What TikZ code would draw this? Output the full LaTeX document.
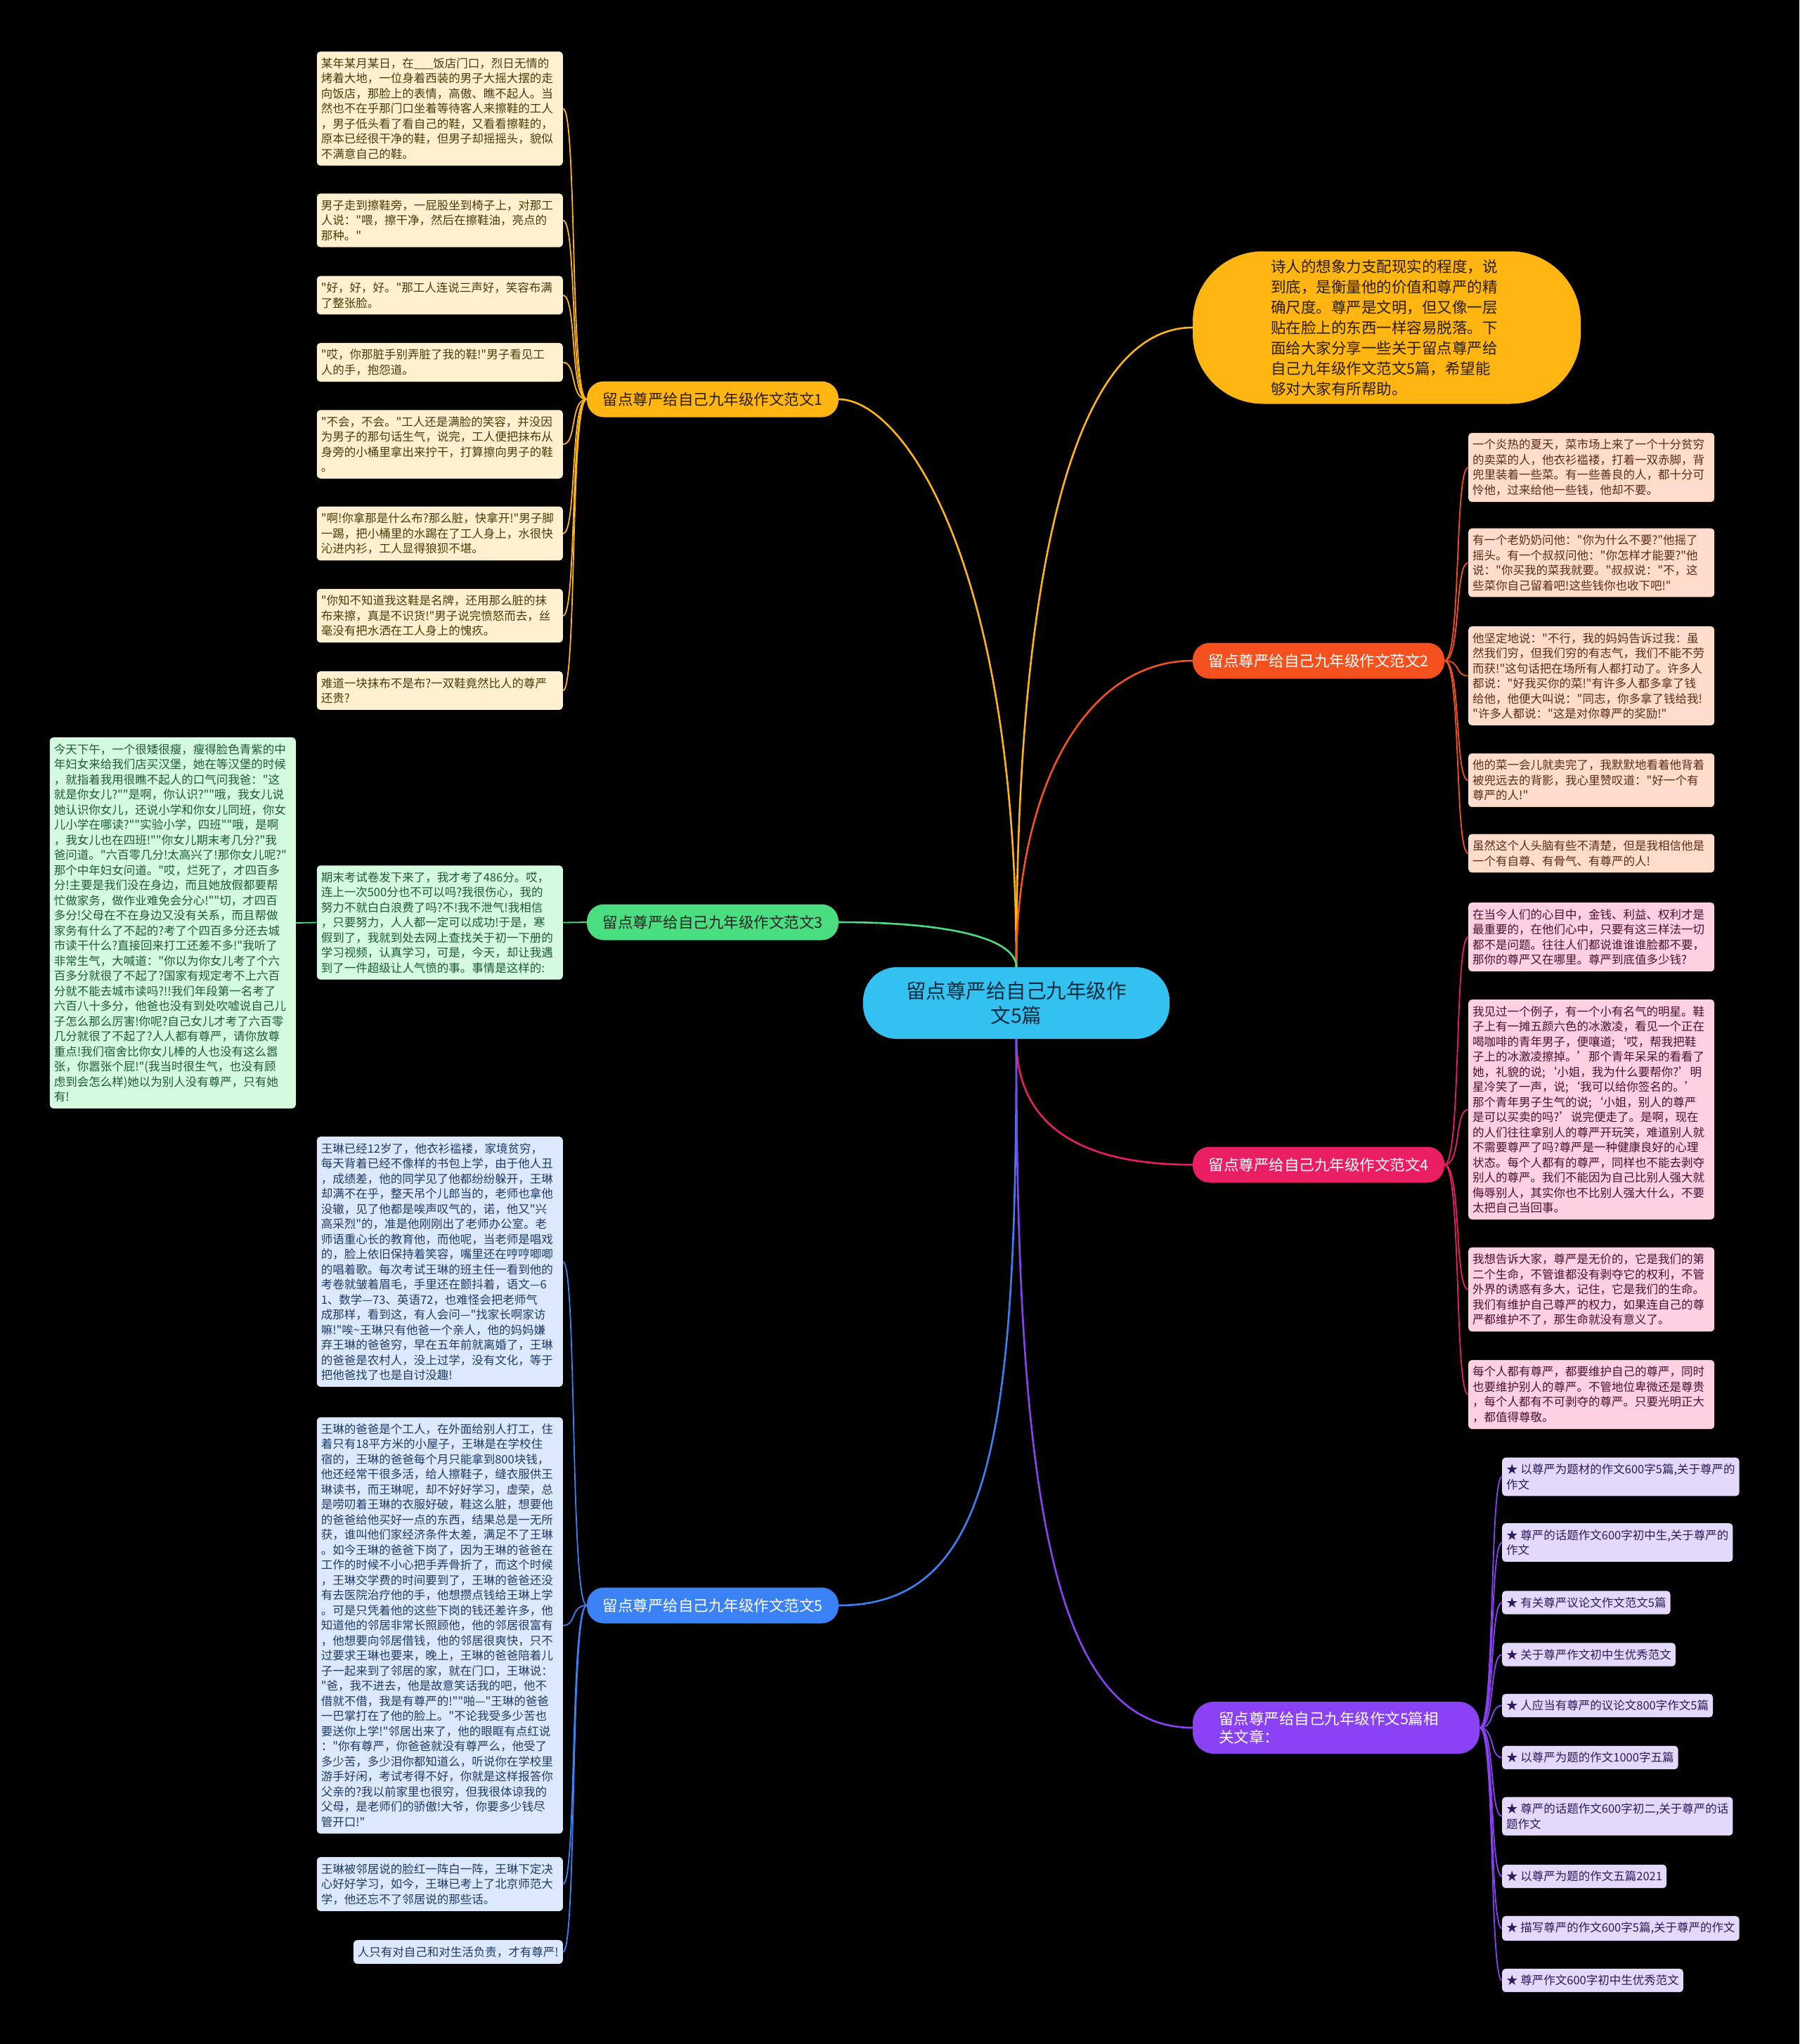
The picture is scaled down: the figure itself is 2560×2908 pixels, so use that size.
\documentclass[tikz,border=0pt]{standalone}
\usepackage{fontspec}
\newfontfamily\zhfont{Noto Sans CJK SC}
\usetikzlibrary{positioning}

\definecolor{hubc}{HTML}{33C2F0}
\definecolor{hubt}{HTML}{0D2B3E}
\definecolor{c1}{HTML}{FFB612}
\definecolor{c2}{HTML}{F4511E}
\definecolor{c3}{HTML}{4ADE80}
\definecolor{c4}{HTML}{E91E63}
\definecolor{c5}{HTML}{3B82F6}
\definecolor{c6}{HTML}{8B42F5}
\definecolor{l1}{HTML}{FFF1CF}
\definecolor{l2}{HTML}{FFDCCB}
\definecolor{l3}{HTML}{D4FADF}
\definecolor{l4}{HTML}{FFCFE2}
\definecolor{l5}{HTML}{DCE8FC}
\definecolor{l6}{HTML}{E4D8FB}
\definecolor{t1}{HTML}{4A3A0A}
\definecolor{t2}{HTML}{5A2A1A}
\definecolor{t3}{HTML}{1E5A32}
\definecolor{t4}{HTML}{4A1030}
\definecolor{t5}{HTML}{1E3A66}
\definecolor{t6}{HTML}{2E1A5C}
\definecolor{ink}{HTML}{2A1E00}

\begin{document}
\begin{tikzpicture}[x=1pt,y=-1pt,
  box/.style 2 args={fill=#1,text=#2,rounded corners=5pt,inner xsep=6pt,inner ysep=9pt,align=left,font=\zhfont\fontsize{16.5}{21.5}\selectfont},
  leaf/.style 2 args={box={#1}{#2},text width=338pt},
  branch/.style 2 args={fill=#1,text=#2,rounded corners=24pt,minimum width=358pt,minimum height=51pt,inner sep=0pt,font=\zhfont\fontsize{21.5}{26}\selectfont},
  hub/.style={fill=hubc,text=hubt,rounded corners=48pt,minimum width=436pt,minimum height=102pt,align=center,font=\zhfont\fontsize{28.5}{35}\selectfont},
  arm/.style={line width=2.6pt},
  twig/.style={line width=1.8pt}]
\fill[black] (0,0) rectangle (2560,2908);
\useasboundingbox (0,0) rectangle (2560,2908);

% centre and main branches
\node[hub] (n0) at (1446,1427) {留点尊严给自己九年级作\\文5篇};
\node[branch={c1}{ink}] (n1) at (1014,568) {留点尊严给自己九年级作文范文1};
\node[branch={c2}{white}] (n2) at (1876,940) {留点尊严给自己九年级作文范文2};
\node[branch={c3}{black!85}] (n3) at (1014,1312) {留点尊严给自己九年级作文范文3};
\node[branch={c4}{white}] (n4) at (1876,1657) {留点尊严给自己九年级作文范文4};
\node[branch={c5}{white}] (n5) at (1014,2284) {留点尊严给自己九年级作文范文5};
\node[branch={c6}{white},rounded corners=30pt,minimum width=408pt,minimum height=74pt,text width=334pt,align=left] (n6) at (1901,2458) {留点尊严给自己九年级作文5篇相\\关文章：};
\node[fill=c1,text=ink,rounded corners=100pt,text width=330pt,inner xsep=111pt,minimum height=217pt,align=left,font=\zhfont\fontsize{21.5}{29}\selectfont] (n7) at (1973,466) {诗人的想象力支配现实的程度，说\\到底，是衡量他的价值和尊严的精\\确尺度。尊严是文明，但又像一层\\贴在脸上的东西一样容易脱落。下\\面给大家分享一些关于留点尊严给\\自己九年级作文范文5篇，希望能\\够对大家有所帮助。};

% branch 1
\node[leaf={l1}{t1},anchor=east] (n1a) at (801,154.5) {某年某月某日，在\_\_\_饭店门口，烈日无情的\\烤着大地，一位身着西装的男子大摇大摆的走\\向饭店，那脸上的表情，高傲、瞧不起人。当\\然也不在乎那门口坐着等待客人来擦鞋的工人\\，男子低头看了看自己的鞋，又看看擦鞋的，\\原本已经很干净的鞋，但男子却摇摇头，貌似\\不满意自己的鞋。};
\node[leaf={l1}{t1},anchor=east] (n1b) at (801,313.5) {男子走到擦鞋旁，一屁股坐到椅子上，对那工\\人说："喂，擦干净，然后在擦鞋油，亮点的\\那种。"};
\node[leaf={l1}{t1},anchor=east] (n1c) at (801,420) {"好，好，好。"那工人连说三声好，笑容布满\\了整张脸。};
\node[leaf={l1}{t1},anchor=east] (n1d) at (801,515.5) {"哎，你那脏手别弄脏了我的鞋!"男子看见工\\人的手，抱怨道。};
\node[leaf={l1}{t1},anchor=east] (n1e) at (801,632) {"不会，不会。"工人还是满脸的笑容，并没因\\为男子的那句话生气，说完，工人便把抹布从\\身旁的小桶里拿出来拧干，打算擦向男子的鞋\\。};
\node[leaf={l1}{t1},anchor=east] (n1f) at (801,759) {"啊!你拿那是什么布?那么脏，快拿开!"男子脚\\一踢，把小桶里的水踢在了工人身上，水很快\\沁进内衫，工人显得狼狈不堪。};
\node[leaf={l1}{t1},anchor=east] (n1g) at (801,876) {"你知不知道我这鞋是名牌，还用那么脏的抹\\布来擦，真是不识货!"男子说完愤怒而去，丝\\毫没有把水洒在工人身上的愧疚。};
\node[leaf={l1}{t1},anchor=east] (n1h) at (801,982.5) {难道一块抹布不是布?一双鞋竟然比人的尊严\\还贵?};

% branch 3
\node[leaf={l3}{t3},anchor=east] (n3b) at (801,1312.5) {期末考试卷发下来了，我才考了486分。哎，\\连上一次500分也不可以吗?我很伤心，我的\\努力不就白白浪费了吗?不!我不泄气!我相信\\，只要努力，人人都一定可以成功!于是，寒\\假到了，我就到处去网上查找关于初一下册的\\学习视频，认真学习，可是，今天，却让我遇\\到了一件超级让人气愤的事。事情是这样的:};
\node[leaf={l3}{t3},anchor=east] (n3a) at (421,1313) {今天下午，一个很矮很瘦，瘦得脸色青紫的中\\年妇女来给我们店买汉堡，她在等汉堡的时候\\，就指着我用很瞧不起人的口气问我爸："这\\就是你女儿?""是啊，你认识?""哦，我女儿说\\她认识你女儿，还说小学和你女儿同班，你女\\儿小学在哪读?""实验小学，四班""哦，是啊\\，我女儿也在四班!""你女儿期末考几分?"我\\爸问道。"六百零几分!太高兴了!那你女儿呢?"\\那个中年妇女问道。"哎，烂死了，才四百多\\分!主要是我们没在身边，而且她放假都要帮\\忙做家务，做作业难免会分心!""切，才四百\\多分!父母在不在身边又没有关系，而且帮做\\家务有什么了不起的?考了个四百多分还去城\\市读干什么?直接回来打工还差不多!"我听了\\非常生气，大喊道："你以为你女儿考了个六\\百多分就很了不起了?国家有规定考不上六百\\分就不能去城市读吗?!!我们年段第一名考了\\六百八十多分，他爸也没有到处吹嘘说自己儿\\子怎么那么厉害!你呢?自己女儿才考了六百零\\几分就很了不起了?人人都有尊严，请你放尊\\重点!我们宿舍比你女儿棒的人也没有这么嚣\\张，你嚣张个屁!"(我当时很生气，也没有顾\\虑到会怎么样)她以为别人没有尊严，只有她\\有!};

% branch 5
\node[leaf={l5}{t5},anchor=east] (n5a) at (801,1795) {王琳已经12岁了，他衣衫褴褛，家境贫穷，\\每天背着已经不像样的书包上学，由于他人丑\\，成绩差，他的同学见了他都纷纷躲开，王琳\\却满不在乎，整天吊个儿郎当的，老师也拿他\\没辙，见了他都是唉声叹气的，诺，他又"兴\\高采烈"的，准是他刚刚出了老师办公室。老\\师语重心长的教育他，而他呢，当老师是唱戏\\的，脸上依旧保持着笑容，嘴里还在哼哼唧唧\\的唱着歌。每次考试王琳的班主任一看到他的\\考卷就皱着眉毛，手里还在颤抖着，语文—6\\1、数学—73、英语72，也难怪会把老师气\\成那样，看到这，有人会问—"找家长啊家访\\嘛!"唉\textasciitilde 王琳只有他爸一个亲人，他的妈妈嫌\\弃王琳的爸爸穷，早在五年前就离婚了，王琳\\的爸爸是农村人，没上过学，没有文化，等于\\把他爸找了也是自讨没趣!};
\node[leaf={l5}{t5},anchor=east] (n5b) at (801,2312.5) {王琳的爸爸是个工人，在外面给别人打工，住\\着只有18平方米的小屋子，王琳是在学校住\\宿的，王琳的爸爸每个月只能拿到800块钱，\\他还经常干很多活，给人擦鞋子，缝衣服供王\\琳读书，而王琳呢，却不好好学习，虚荣，总\\是唠叨着王琳的衣服好破，鞋这么脏，想要他\\的爸爸给他买好一点的东西，结果总是一无所\\获，谁叫他们家经济条件太差，满足不了王琳\\。如今王琳的爸爸下岗了，因为王琳的爸爸在\\工作的时候不小心把手弄骨折了，而这个时候\\，王琳交学费的时间要到了，王琳的爸爸还没\\有去医院治疗他的手，他想攒点钱给王琳上学\\。可是只凭着他的这些下岗的钱还差许多，他\\知道他的邻居非常长照顾他，他的邻居很富有\\，他想要向邻居借钱，他的邻居很爽快，只不\\过要求王琳也要来，晚上，王琳的爸爸陪着儿\\子一起来到了邻居的家，就在门口，王琳说：\\"爸，我不进去，他是故意笑话我的吧，他不\\借就不借，我是有尊严的!""啪—"王琳的爸爸\\一巴掌打在了他的脸上。"不论我受多少苦也\\要送你上学!"邻居出来了，他的眼眶有点红说\\："你有尊严，你爸爸就没有尊严么，他受了\\多少苦，多少泪你都知道么，听说你在学校里\\游手好闲，考试考得不好，你就是这样报答你\\父亲的?我以前家里也很穷，但我很体谅我的\\父母，是老师们的骄傲!大爷，你要多少钱尽\\管开口!"};
\node[leaf={l5}{t5},anchor=east] (n5c) at (801,2680.5) {王琳被邻居说的脸红一阵白一阵，王琳下定决\\心好好学习，如今，王琳已考上了北京师范大\\学，他还忘不了邻居说的那些话。};
\node[box={l5}{t5},anchor=east] (n5d) at (801,2777) {人只有对自己和对生活负责，才有尊严!};

% branch 2
\node[leaf={l2}{t2},anchor=west] (n2a) at (2089,665) {一个炎热的夏天，菜市场上来了一个十分贫穷\\的卖菜的人，他衣衫褴褛，打着一双赤脚，背\\兜里装着一些菜。有一些善良的人，都十分可\\怜他，过来给他一些钱，他却不要。};
\node[leaf={l2}{t2},anchor=west] (n2b) at (2089,800.5) {有一个老奶奶问他："你为什么不要?"他摇了\\摇头。有一个叔叔问他："你怎样才能要?"他\\说："你买我的菜我就要。"叔叔说："不，这\\些菜你自己留着吧!这些钱你也收下吧!"};
\node[leaf={l2}{t2},anchor=west] (n2c) at (2089,961.5) {他坚定地说："不行，我的妈妈告诉过我：虽\\然我们穷，但我们穷的有志气，我们不能不劳\\而获!"这句话把在场所有人都打动了。许多人\\都说："好我买你的菜!"有许多人都多拿了钱\\给他，他便大叫说："同志，你多拿了钱给我!\\"许多人都说："这是对你尊严的奖励!"};
\node[leaf={l2}{t2},anchor=west] (n2d) at (2089,1110) {他的菜一会儿就卖完了，我默默地看着他背着\\被兜远去的背影，我心里赞叹道："好一个有\\尊严的人!"};
\node[leaf={l2}{t2},anchor=west] (n2e) at (2089,1214) {虽然这个人头脑有些不清楚，但是我相信他是\\一个有自尊、有骨气、有尊严的人!};

% branch 4
\node[leaf={l4}{t4},anchor=west] (n4a) at (2089,1333) {在当今人们的心目中，金钱、利益、权利才是\\最重要的，在他们心中，只要有这三样法一切\\都不是问题。往往人们都说谁谁谁脸都不要，\\那你的尊严又在哪里。尊严到底值多少钱?};
\node[leaf={l4}{t4},anchor=west] (n4b) at (2089,1578.5) {我见过一个例子，有一个小有名气的明星。鞋\\子上有一摊五颜六色的冰激凌，看见一个正在\\喝咖啡的青年男子，便嚷道;‘哎，帮我把鞋\\子上的冰激凌擦掉。’那个青年呆呆的看看了\\她，礼貌的说;‘小姐，我为什么要帮你?’明\\星冷笑了一声，说;‘我可以给你签名的。’\\那个青年男子生气的说;‘小姐，别人的尊严\\是可以买卖的吗?’说完便走了。是啊，现在\\的人们往往拿别人的尊严开玩笑，难道别人就\\不需要尊严了吗?尊严是一种健康良好的心理\\状态。每个人都有的尊严，同样也不能去剥夺\\别人的尊严。我们不能因为自己比别人强大就\\侮辱别人，其实你也不比别人强大什么，不要\\太把自己当回事。};
\node[leaf={l4}{t4},anchor=west] (n4c) at (2089,1834.5) {我想告诉大家，尊严是无价的，它是我们的第\\二个生命，不管谁都没有剥夺它的权利，不管\\外界的诱惑有多大，记住，它是我们的生命。\\我们有维护自己尊严的权力，如果连自己的尊\\严都维护不了，那生命就没有意义了。};
\node[leaf={l4}{t4},anchor=west] (n4d) at (2089,1984) {每个人都有尊严，都要维护自己的尊严，同时\\也要维护别人的尊严。不管地位卑微还是尊贵\\，每个人都有不可剥夺的尊严。只要光明正大\\，都值得尊敬。};

% related articles
\node[box={l6}{t6},anchor=west] (n6a) at (2137,2101) {★ 以尊严为题材的作文600字5篇,关于尊严的\\作文};
\node[box={l6}{t6},anchor=west] (n6b) at (2137,2194.5) {★ 尊严的话题作文600字初中生,关于尊严的\\作文};
\node[box={l6}{t6},anchor=west] (n6c) at (2137,2280) {★ 有关尊严议论文作文范文5篇};
\node[box={l6}{t6},anchor=west] (n6d) at (2137,2354) {★ 关于尊严作文初中生优秀范文};
\node[box={l6}{t6},anchor=west] (n6e) at (2137,2426.5) {★ 人应当有尊严的议论文800字作文5篇};
\node[box={l6}{t6},anchor=west] (n6f) at (2137,2500.5) {★ 以尊严为题的作文1000字五篇};
\node[box={l6}{t6},anchor=west] (n6g) at (2137,2584) {★ 尊严的话题作文600字初二,关于尊严的话\\题作文};
\node[box={l6}{t6},anchor=west] (n6h) at (2137,2669.5) {★ 以尊严为题的作文五篇2021};
\node[box={l6}{t6},anchor=west] (n6i) at (2137,2743.5) {★ 描写尊严的作文600字5篇,关于尊严的作文};
\node[box={l6}{t6},anchor=west] (n6j) at (2137,2817.5) {★ 尊严作文600字初中生优秀范文};

% centre to branches
\draw[arm,c1] (n0.north) .. controls +(0,-580) and +(90,0) .. (n1.east);
\draw[arm,c1] (n0.north) .. controls +(0,-600) and +(-160,0) .. (n7.west);
\draw[arm,c2] (n0.north) .. controls +(0,-260) and +(-150,0) .. (n2.west);
\draw[arm,c3] (n0.north) .. controls +(0,-40) and +(160,0) .. (n3.east);
\draw[arm,c4] (n0.south) .. controls +(0,130) and +(-150,0) .. (n4.west);
\draw[arm,c5] (n0.south) .. controls +(0,560) and +(220,0) .. (n5.east);
\draw[arm,c6] (n0.south) .. controls +(0,650) and +(-200,0) .. (n6.west);

% branches to leaves
\foreach \n in {n1a,n1b,n1c,n1d,n1e,n1f,n1g,n1h}
  \draw[twig,c1] (n1.west) .. controls +(-24,0) and +(20,0) .. (\n.east);
\draw[twig,c3] (n3.west) -- (n3b.east);
\draw[twig,c3] (n3b.west) -- (n3a.east);
\foreach \n in {n5a,n5b,n5c,n5d}
  \draw[twig,c5] (n5.west) .. controls +(-24,0) and +(20,0) .. (\n.east);
\foreach \n in {n2a,n2b,n2c,n2d,n2e}
  \draw[twig,c2] (n2.east) .. controls +(24,0) and +(-20,0) .. (\n.west);
\foreach \n in {n4a,n4b,n4c,n4d}
  \draw[twig,c4] (n4.east) .. controls +(24,0) and +(-20,0) .. (\n.west);
\foreach \n in {n6a,n6b,n6c,n6d,n6e,n6f,n6g,n6h,n6i,n6j}
  \draw[twig,c6] (n6.east) .. controls +(22,0) and +(-18,0) .. (\n.west);
\end{tikzpicture}
\end{document}
